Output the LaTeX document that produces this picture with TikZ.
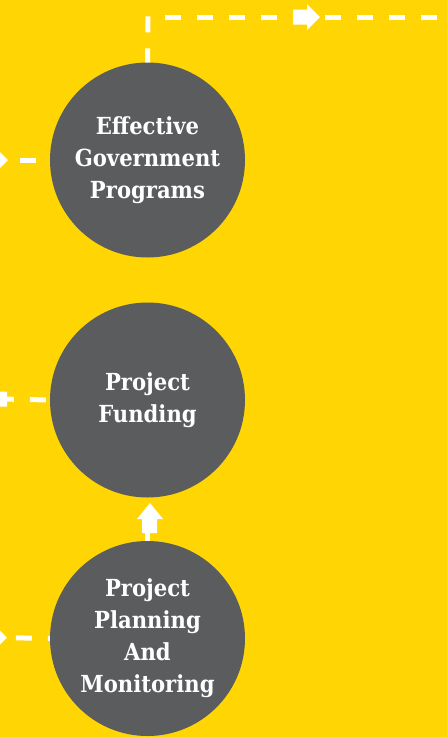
\documentclass[tikz,border=0pt]{standalone}
\usepackage{fontspec}
\setmainfont{DejaVu Serif Condensed}
\definecolor{yel}{HTML}{FFD503}
\definecolor{bubgray}{HTML}{5B5C5E}
\pgfdeclarelayer{bg}
\pgfsetlayers{bg,main}
\begin{document}
\begin{tikzpicture}[x=1pt,y=-1pt,
  dl/.style={draw=white, line width=5pt, dash pattern=on 16pt off 16pt},
  bub/.style={circle, fill=bubgray, minimum size=195pt, inner sep=0pt, text=white,
    font=\bfseries\fontsize{23.5}{32}\selectfont, align=center},
  fatarrow/.style={fill=white}]
\useasboundingbox (0,0) rectangle (447,737);
\coordinate (corner) at (148,15);
\coordinate (topstart) at (165,17);
\coordinate (topend) at (447,17);
\coordinate (l1) at (0,160);
\coordinate (l2) at (0,399);
\coordinate (l3) at (0,637.5);
\node[bub] (c1) at (147.5,160) {Effective\\Government\\Programs};
\node[bub] (c2) at (147.5,400) {Project\\Funding};
\node[bub] (c3) at (147.5,638.5) {Project\\Planning\\And\\Monitoring};
\begin{pgfonlayer}{bg}
\fill[yel] (0,0) rectangle (447,737);
\draw[dl] (c1.north) ++(0,2) -- (corner);
\draw[dl] (topstart) -- (topend);
\fill[fatarrow] (293,9.5) -- (307,9.5) -- (307,4) -- (320,17) -- (307,30) -- (307,24.5) -- (293,24.5) -- cycle;
\draw[dl, dash phase=18pt] (c1.west) -- (l1);
\fill[fatarrow] (8,160) -- (-5,147) -- (-5,152.5) -- (-19,152.5) -- (-19,167.5) -- (-5,167.5) -- (-5,173) -- cycle;
\draw[dl, dash phase=28pt] (c2.west) -- (l2);
\fill[fatarrow] (7,391.5) -- (-7,391.5) -- (-7,386) -- (-20,399) -- (-7,412) -- (-7,406.5) -- (7,406.5) -- cycle;
\draw[dl, dash phase=14pt] (c3.west) -- (l3);
\fill[fatarrow] (7,637.5) -- (-6,624.5) -- (-6,630) -- (-20,630) -- (-20,645) -- (-6,645) -- (-6,650.5) -- cycle;
\draw[white, line width=4.5pt] (c3.north) -- ++(0,-10);
\fill[fatarrow] (150,503) -- (163,519) -- (157,519) -- (157,533) -- (142,533) -- (142,519) -- (137,519) -- cycle;
\end{pgfonlayer}
\end{tikzpicture}
\end{document}
